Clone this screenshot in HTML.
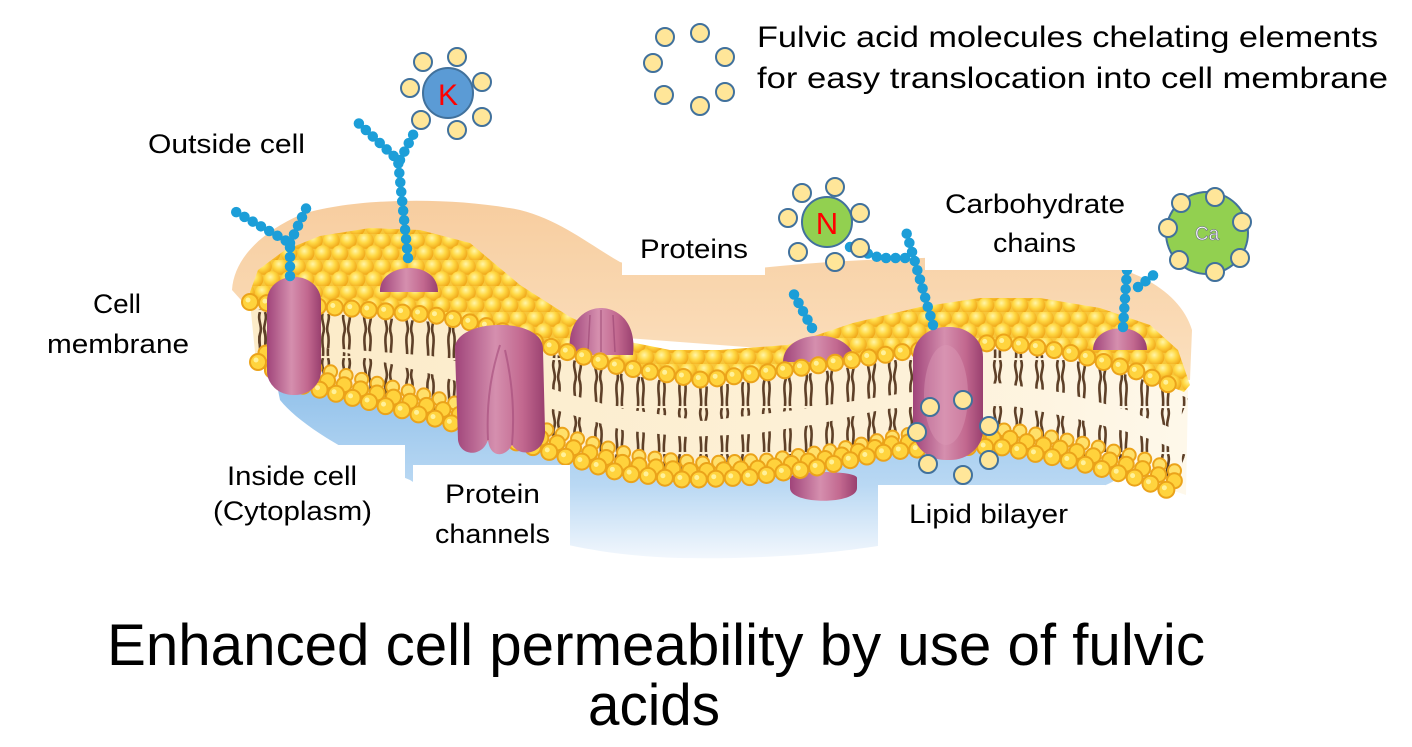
<!DOCTYPE html>
<html><head><meta charset="utf-8"><style>
html,body{margin:0;padding:0;background:#fff;}
svg{display:block;}
text{font-family:"Liberation Sans",Arial,sans-serif;}
</style></head><body>
<svg width="1412" height="747" viewBox="0 0 1412 747" xmlns="http://www.w3.org/2000/svg">
<defs>
  <linearGradient id="peach" x1="0" y1="0" x2="0" y2="1">
    <stop offset="0" stop-color="#f7cd9f"/>
    <stop offset="1" stop-color="#fbe0bf"/>
  </linearGradient>
  <linearGradient id="blue" x1="0" y1="0" x2="0" y2="1">
    <stop offset="0" stop-color="#8fc0ea"/>
    <stop offset="0.6" stop-color="#b9d8f3"/>
    <stop offset="1" stop-color="#f2f7fd"/>
  </linearGradient>
  <linearGradient id="cream" x1="0" y1="0" x2="1" y2="0">
    <stop offset="0" stop-color="#fcebc8"/>
    <stop offset="0.7" stop-color="#fdf1d8"/>
    <stop offset="1" stop-color="#fef8ea"/>
  </linearGradient>
  <radialGradient id="ball" cx="0.4" cy="0.35" r="0.7">
    <stop offset="0" stop-color="#fff5a8"/>
    <stop offset="0.45" stop-color="#ffd843"/>
    <stop offset="1" stop-color="#ee9f12"/>
  </radialGradient>
  <linearGradient id="prot" x1="0" y1="0" x2="1" y2="0">
    <stop offset="0" stop-color="#a0447a"/>
    <stop offset="0.45" stop-color="#d58fae"/>
    <stop offset="0.75" stop-color="#c2688f"/>
    <stop offset="1" stop-color="#99406f"/>
  </linearGradient>
  <pattern id="balls" patternUnits="userSpaceOnUse" width="17" height="26">
    <rect width="17" height="26" fill="#f7c63a"/>
    <circle cx="8.5" cy="6.5" r="8.3" fill="url(#ball)"/>
    <circle cx="0" cy="19.5" r="8.3" fill="url(#ball)"/>
    <circle cx="17" cy="19.5" r="8.3" fill="url(#ball)"/>
  </pattern>
  <pattern id="tails" patternUnits="userSpaceOnUse" width="21" height="48">
    <path d="M8,0 c-3,8 3,14 0,22 c-2,8 1,14 0,24" stroke="#5e4028" stroke-width="2.6" fill="none"/>
    <path d="M13,0 c3,8 -3,14 0,22 c2,8 -1,14 0,24" stroke="#5e4028" stroke-width="2.6" fill="none"/>
  </pattern>
  <clipPath id="bandClip">
    <polygon points="250,302 343,308 433,315 483,325 567,352 620,367 703,380 787,370 853,360 903,352 1000,342 1067,352 1133,370 1188,390 1186,495 1133,477 1067,460 1000,447 950,447 887,452 820,467 753,477 687,480 620,473 553,453 433,418 333,393 300,385 256,362"/>
  </clipPath>
</defs>

<rect width="1412" height="747" fill="#fff"/>

<!-- peach back surface -->
<path d="M232,290 C234,258 262,232 300,215 C350,198 450,196 520,210 C560,220 590,245 620,262 C660,275 720,272 780,266 C860,258 960,256 1060,258 C1130,262 1180,290 1192,330 L1190,380 L250,310 Z" fill="url(#peach)"/>

<!-- blue underside -->
<path d="M275,375 L300,385 L333,393 L433,418 L553,453 L620,473 L687,480 L753,477 L820,467 L887,452 L950,447 L1000,447 L1067,460 L1120,475 C1110,495 1000,505 960,525 C900,550 780,560 680,558 C560,555 470,520 410,480 C350,455 300,425 280,400 Z" fill="url(#blue)"/>

<!-- cream interior band -->
<polygon points="250,302 343,308 433,315 483,325 567,352 620,367 703,380 787,370 853,360 903,352 1000,342 1067,352 1133,370 1188,390 1186,495 1133,477 1067,460 1000,447 950,447 887,452 820,467 753,477 687,480 620,473 553,453 433,418 333,393 300,385 256,362" fill="url(#cream)"/>

<g clip-path="url(#bandClip)">
<!-- top tails -->
<polyline points="250,302 343,308 433,315 483,325 567,352 620,367 703,380 787,370 853,360 903,352 1000,342 1067,352 1133,370 1182,390" transform="translate(0,24)" fill="none" stroke="url(#tails)" stroke-width="34" stroke-linejoin="round"/>
<!-- bottom tails -->
<polyline points="258,362 300,385 333,393 433,418 553,453 620,473 687,480 753,477 820,467 887,452 950,447 1000,447 1067,460 1133,477 1180,495" transform="translate(0,-26)" fill="none" stroke="url(#tails)" stroke-width="34" stroke-linejoin="round"/>
</g>

<!-- bottom heads far back row -->
<g transform="translate(15,-17)">
<polyline points="300,385 333,393 433,418 553,453 620,473 687,480 753,477 820,467 887,452 950,447 1000,447 1067,460 1133,477 1165,490" fill="none" stroke="#eba31a" stroke-width="15" stroke-linecap="round" stroke-dasharray="0 16"/>
<polyline points="300,385 333,393 433,418 553,453 620,473 687,480 753,477 820,467 887,452 950,447 1000,447 1067,460 1133,477 1165,490" fill="none" stroke="#ffe06a" stroke-width="11" stroke-linecap="round" stroke-dasharray="0 16"/>
</g>
<!-- bottom heads back row -->
<g transform="translate(8,-9)">
<polyline points="258,362 300,385 333,393 433,418 553,453 620,473 687,480 753,477 820,467 887,452 950,447 1000,447 1067,460 1133,477 1180,495" fill="none" stroke="#eba31a" stroke-width="17" stroke-linecap="round" stroke-dasharray="0 17"/>
<polyline points="258,362 300,385 333,393 433,418 553,453 620,473 687,480 753,477 820,467 887,452 950,447 1000,447 1067,460 1133,477 1180,495" fill="none" stroke="#ffd23c" stroke-width="13" stroke-linecap="round" stroke-dasharray="0 17"/>
</g>
<!-- bottom protein part (protein 5 lower) -->
<path d="M790,478 C790,470 857,470 857,478 L857,488 C857,505 790,505 790,488 Z" fill="url(#prot)"/>
<!-- bottom heads front row -->
<polyline points="258,362 300,385 333,393 433,418 553,453 620,473 687,480 753,477 820,467 887,452 950,447 1000,447 1067,460 1133,477 1180,495" fill="none" stroke="#eba31a" stroke-width="18" stroke-linecap="round" stroke-dasharray="0 17"/>
<polyline points="258,362 300,385 333,393 433,418 553,453 620,473 687,480 753,477 820,467 887,452 950,447 1000,447 1067,460 1133,477 1180,495" fill="none" stroke="#ffd43e" stroke-width="14" stroke-linecap="round" stroke-dasharray="0 17"/>
<polyline points="258,362 300,385 333,393 433,418 553,453 620,473 687,480 753,477 820,467 887,452 950,447 1000,447 1067,460 1133,477 1180,495" transform="translate(-2,-2)" fill="none" stroke="#fff19a" stroke-width="5" stroke-linecap="round" stroke-dasharray="0 17"/>

<!-- top sheet of heads -->
<polygon points="250,292 258,270 285,250 320,236 370,228 420,230 470,243 520,285 570,317 620,340 670,350 720,350 787,345 853,323 920,307 980,298 1040,298 1100,308 1150,325 1178,350 1190,385 1184,392 1133,372 1067,354 1000,345 950,350 903,354 853,362 787,372 703,382 620,369 567,354 483,327 433,317 343,310 250,304" fill="url(#balls)"/>

<!-- dome proteins on top -->
<path d="M380,292 C378,262 438,258 438,292 Z" fill="url(#prot)"/>
<path d="M570,355 C566,318 588,308 601,308 C614,308 637,318 633,355 Z" fill="url(#prot)"/>
<path d="M590,315 L588,352 M601,310 L601,352 M613,315 L615,352" stroke="#9a4272" stroke-width="1.5" fill="none" opacity="0.6"/>
<path d="M783,362 C783,328 853,326 855,362 Z" fill="url(#prot)"/>
<path d="M1093,350 C1093,322 1147,320 1147,350 Z" fill="url(#prot)"/>

<!-- top heads front row -->
<polyline points="250,302 343,308 433,315 483,325 567,352 620,367 703,380 787,370 853,360 903,352 1000,342 1067,352 1133,370 1182,390" fill="none" stroke="#eba31a" stroke-width="18" stroke-linecap="round" stroke-dasharray="0 17"/>
<polyline points="250,302 343,308 433,315 483,325 567,352 620,367 703,380 787,370 853,360 903,352 1000,342 1067,352 1133,370 1182,390" fill="none" stroke="#ffd43e" stroke-width="14" stroke-linecap="round" stroke-dasharray="0 17"/>
<polyline points="250,302 343,308 433,315 483,325 567,352 620,367 703,380 787,370 853,360 903,352 1000,342 1067,352 1133,370 1182,390" transform="translate(-2,-2)" fill="none" stroke="#fff19a" stroke-width="5" stroke-linecap="round" stroke-dasharray="0 17"/>

<!-- tall proteins -->
<rect x="267" y="277" width="54" height="118" rx="26" ry="24" fill="url(#prot)"/>
<path d="M455,350 C452,318 545,315 543,350 L545,430 C546,455 520,458 512,445 C505,458 490,458 488,440 C482,458 460,456 458,440 Z" fill="url(#prot)"/>
<path d="M488,440 C486,400 492,370 500,345 M512,445 C515,410 512,380 505,350" stroke="#a44a7a" stroke-width="2" fill="none" opacity="0.6"/>
<rect x="913" y="327" width="70" height="133" rx="33" ry="30" fill="url(#prot)"/>
<ellipse cx="946" cy="395" rx="22" ry="50" fill="#dc9ab6" opacity="0.45"/>

<!-- carbohydrate chains -->
<g fill="none" stroke="#1c9ed8" stroke-width="10.5" stroke-linecap="round" stroke-dasharray="0 9.5">
  <path d="M290,276 L290,243 L236,212"/>
  <path d="M290,243 L310,200"/>
  <path d="M408,258 L398,160 L353,118"/>
  <path d="M400,160 L414,133"/>
  <path d="M812,328 L790,287"/>
  <path d="M933,325 L915,262 L905,228"/>
  <path d="M850,247 L880,258 L908,258"/>
  <path d="M1123,327 L1127,270"/>
  <path d="M1138,287 L1160,270"/>
</g>

<!-- white label boxes -->
<rect x="200" y="445" width="205" height="120" fill="#fff"/>
<rect x="413" y="465" width="157" height="100" fill="#fff"/>
<rect x="878" y="485" width="227" height="70" fill="#fff"/>
<rect x="622" y="222" width="143" height="53" fill="#fff"/>
<rect x="925" y="183" width="215" height="87" fill="#fff"/>

<!-- K molecule -->
<g stroke="#41719c" stroke-width="2">
  <circle cx="448" cy="93" r="25" fill="#5b9bd5"/>
  <g fill="#ffe699">
    <circle cx="423" cy="62" r="9"/><circle cx="457" cy="57" r="9"/><circle cx="482" cy="82" r="9"/>
    <circle cx="482" cy="117" r="9"/><circle cx="457" cy="130" r="9"/><circle cx="421" cy="120" r="9"/>
    <circle cx="410" cy="88" r="9"/>
  </g>
</g>
<text x="448" y="105" font-size="30" fill="#ff0000" text-anchor="middle">K</text>

<!-- fulvic ring legend -->
<g stroke="#41719c" stroke-width="2" fill="#ffe699">
  <circle cx="665" cy="37" r="9"/><circle cx="700" cy="33" r="9"/><circle cx="725" cy="57" r="9"/>
  <circle cx="725" cy="92" r="9"/><circle cx="700" cy="106" r="9"/><circle cx="664" cy="95" r="9"/>
  <circle cx="653" cy="63" r="9"/>
</g>

<!-- N molecule -->
<g stroke="#41719c" stroke-width="2">
  <circle cx="827" cy="222" r="25" fill="#92d050"/>
  <g fill="#ffe699">
    <circle cx="802" cy="193" r="9"/><circle cx="835" cy="187" r="9"/><circle cx="860" cy="213" r="9"/>
    <circle cx="860" cy="248" r="9"/><circle cx="835" cy="262" r="9"/><circle cx="798" cy="252" r="9"/>
    <circle cx="788" cy="218" r="9"/>
  </g>
</g>
<text x="827" y="234" font-size="31" fill="#ff0000" text-anchor="middle">N</text>

<!-- Ca molecule -->
<g stroke="#41719c" stroke-width="2">
  <circle cx="1207" cy="233" r="41" fill="#92d050"/>
  <g fill="#ffe699">
    <circle cx="1181" cy="203" r="9"/><circle cx="1215" cy="197" r="9"/><circle cx="1242" cy="222" r="9"/>
    <circle cx="1240" cy="258" r="9"/><circle cx="1215" cy="272" r="9"/><circle cx="1179" cy="260" r="9"/>
    <circle cx="1168" cy="228" r="9"/>
  </g>
</g>
<text x="1207" y="240" font-size="19" fill="#fff" stroke="#6a6a8a" stroke-width="0.6" text-anchor="middle">Ca</text>

<!-- fulvic molecules at channel -->
<g stroke="#41719c" stroke-width="2" fill="#ffe699">
  <circle cx="930" cy="407" r="9"/><circle cx="963" cy="400" r="9"/><circle cx="917" cy="432" r="9"/>
  <circle cx="989" cy="426" r="9"/><circle cx="928" cy="464" r="9"/><circle cx="963" cy="475" r="9"/>
  <circle cx="989" cy="460" r="9"/>
</g>

<!-- labels -->
<g font-size="27" fill="#000">
  <text x="148" y="153" textLength="157" lengthAdjust="spacingAndGlyphs">Outside cell</text>
  <text x="93" y="313" textLength="48" lengthAdjust="spacingAndGlyphs">Cell</text>
  <text x="47" y="353" textLength="142" lengthAdjust="spacingAndGlyphs">membrane</text>
  <text x="227" y="485" textLength="130" lengthAdjust="spacingAndGlyphs">Inside cell</text>
  <text x="213" y="520" textLength="159" lengthAdjust="spacingAndGlyphs">(Cytoplasm)</text>
  <text x="445" y="503" textLength="95" lengthAdjust="spacingAndGlyphs">Protein</text>
  <text x="435" y="543" textLength="115" lengthAdjust="spacingAndGlyphs">channels</text>
  <text x="640" y="258" textLength="108" lengthAdjust="spacingAndGlyphs">Proteins</text>
  <text x="945" y="213" textLength="180" lengthAdjust="spacingAndGlyphs">Carbohydrate</text>
  <text x="993" y="252" textLength="83" lengthAdjust="spacingAndGlyphs">chains</text>
  <text x="909" y="523" textLength="159" lengthAdjust="spacingAndGlyphs">Lipid bilayer</text>
</g>
<text x="757" y="47" font-size="30" textLength="621" lengthAdjust="spacingAndGlyphs">Fulvic acid molecules chelating elements</text>
<text x="757" y="88" font-size="30" textLength="631" lengthAdjust="spacingAndGlyphs">for easy translocation into cell membrane</text>

<text x="107" y="665" font-size="58" textLength="1098" lengthAdjust="spacingAndGlyphs">Enhanced cell permeability by use of fulvic</text>
<text x="588" y="725" font-size="58" textLength="132" lengthAdjust="spacingAndGlyphs">acids</text>
</svg>
</body></html>
